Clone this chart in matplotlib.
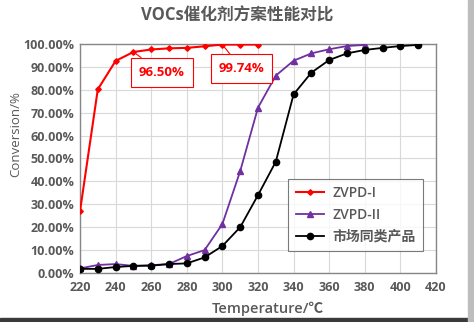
import matplotlib
matplotlib.use('Agg')
import matplotlib.pyplot as plt
from matplotlib.patches import Rectangle

plt.rcParams['font.family'] = ['Open Sans', 'Noto Sans CJK SC', 'DejaVu Sans']

# data
temp_1 = [220, 230, 240, 250, 260, 270, 280, 290, 300, 310, 320]
conv_1 = [27.0, 80.2, 92.6, 96.5, 97.6, 98.1, 98.3, 99.0, 99.74, 99.74, 99.74]

temp_2 = [220, 230, 240, 250, 260, 270, 280, 290, 300, 310, 320, 330, 340, 350, 360, 370, 380]
conv_2 = [2.0, 3.5, 3.9, 3.1, 3.4, 3.9, 7.4, 10.0, 21.4, 44.5, 72.2, 86.2, 92.7, 95.9, 97.7, 99.1, 99.6]

temp_3 = [220, 230, 240, 250, 260, 270, 280, 290, 300, 310, 320, 330, 340, 350, 360, 370, 380, 390, 400, 410]
conv_3 = [1.8, 1.8, 2.6, 3.1, 3.2, 3.9, 4.2, 6.8, 11.8, 20.0, 34.0, 48.6, 78.0, 87.5, 93.0, 95.9, 97.4, 98.3, 99.1, 99.6]

names = ['ZVPD-I', 'ZVPD-II', '市场同类产品']
x_ticks = list(range(220, 421, 20))
y_ticks = list(range(0, 101, 10))

gray = '#595959'

fig = plt.figure(figsize=(4.74, 3.22), dpi=100)
ax = fig.add_axes([0.1688, 0.1522, 0.7510, 0.7112])

ax.plot(temp_1, conv_1, color='#FF0000', marker='D', markersize=2.8, lw=1.5, label=names[0], zorder=4)
ax.plot(temp_2, conv_2, color='#7030A0', marker='^', markersize=4.5, lw=1.3, label=names[1], zorder=3)
ax.plot(temp_3, conv_3, color='black', marker='o', markersize=4.5, lw=1.3, label=names[2], zorder=3)

ax.set_xlim(220, 420)
ax.set_ylim(0, 100)
ax.set_xticks(x_ticks)
ax.set_yticks(y_ticks)
ax.set_yticklabels(['%.2f%%' % v for v in y_ticks])
ax.tick_params(length=0, labelsize=9, labelcolor=gray, pad=4)
ax.tick_params(axis='x', pad=6)
for t in ax.get_xticklabels() + ax.get_yticklabels():
    t.set_fontweight('bold')
ax.grid(True, color='#d9d9d9', lw=0.8)
ax.set_axisbelow(True)
for s in ax.spines.values():
    s.set_color('#868686')
    s.set_linewidth(1.0)

ax.set_xlabel('Temperature/℃', fontsize=10.5, color=gray, fontweight='semibold')
ax.set_ylabel('Conversion/%', fontsize=9.5, color=gray, fontweight='medium')
ax.xaxis.set_label_coords(0.528, -0.125)
ax.yaxis.set_label_coords(-0.163, 0.607)

fig.text(0.5, 0.95, 'VOCs催化剂方案性能对比', ha='center', va='center',
         fontsize=12, fontweight='bold', color=gray)

# callouts
box_style = dict(boxstyle='square,pad=0.6', fc='white', ec='#FF0000', lw=0.8)
ax.annotate('96.50%', xy=(250, 96.5), xytext=(265.9, 87.6), fontsize=9.5, fontweight='bold',
            color='#FF0000', ha='center', va='center', bbox=box_style,
            arrowprops=dict(arrowstyle='-', color='#FF0000', lw=0.8, shrinkA=0, shrinkB=0))
ax.annotate('99.74%', xy=(300, 99.74), xytext=(310.8, 89.2), fontsize=9.5, fontweight='bold',
            color='#FF0000', ha='center', va='center', bbox=box_style,
            arrowprops=dict(arrowstyle='-', color='#FF0000', lw=0.8, shrinkA=0, shrinkB=0))

leg = ax.legend(loc='lower right', bbox_to_anchor=(0.983, 0.065), fontsize=10, frameon=True,
                fancybox=False, edgecolor='#595959', handlelength=2.0, labelspacing=0.55,
                borderpad=0.55, handletextpad=0.6)
leg.get_frame().set_linewidth(0.8)
for t in leg.get_texts():
    t.set_color(gray)
    t.set_fontweight('semibold')

# outer frame of the picture
fig.patches.append(Rectangle((0, 0), 1, 0.012, transform=fig.transFigure, color='#3a3a3a', zorder=0))
fig.patches.append(Rectangle((0.988, 0), 0.012, 1, transform=fig.transFigure, color='#bdbdbd', zorder=0))

fig.savefig('out.png', dpi=100)
